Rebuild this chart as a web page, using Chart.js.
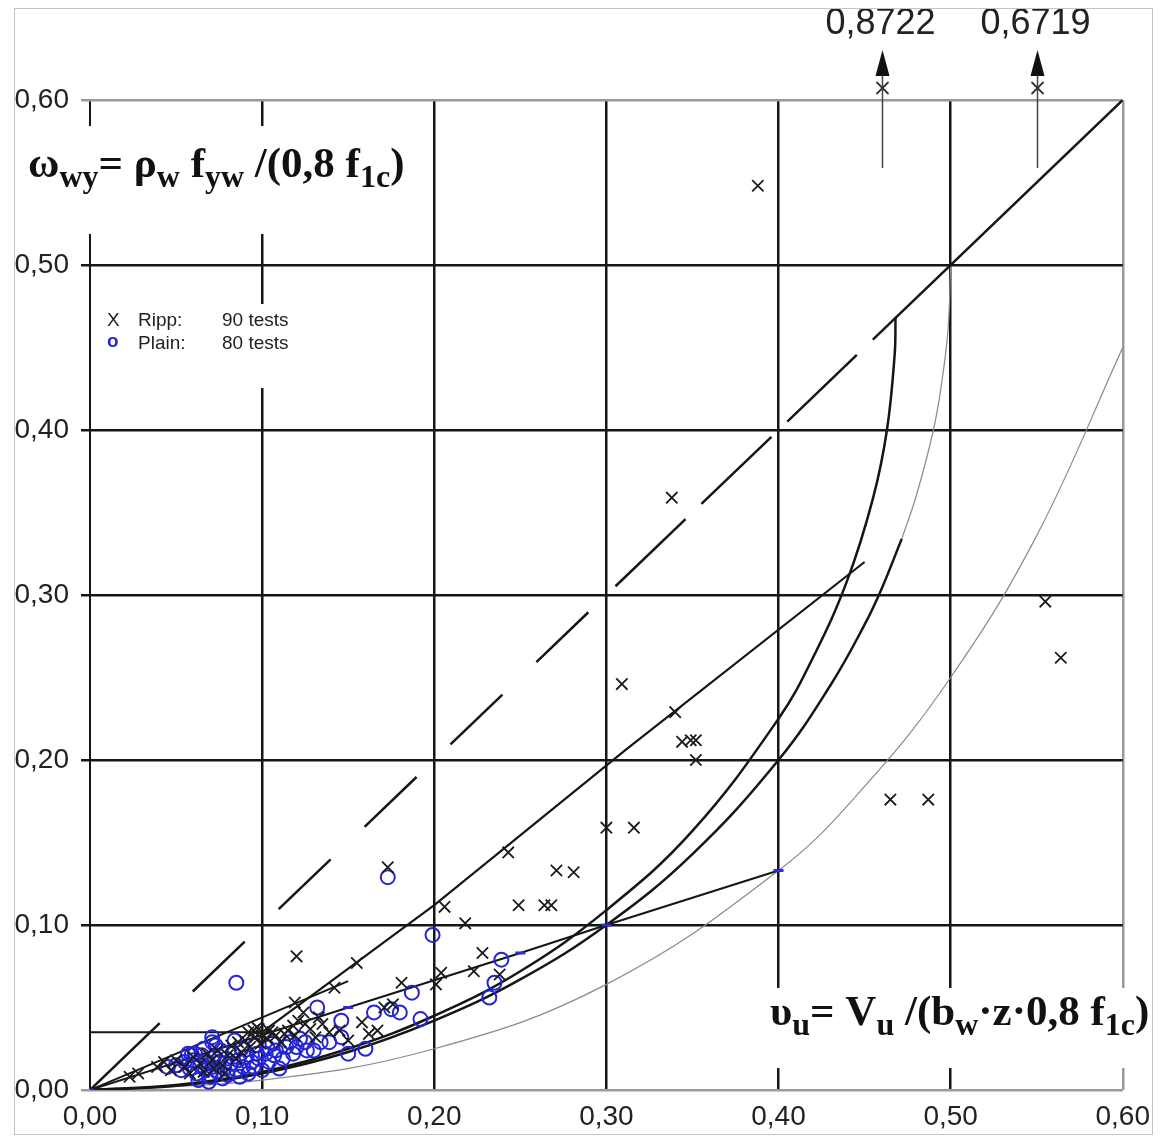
<!DOCTYPE html>
<html>
<head>
<meta charset="utf-8">
<script src="https://cdn.jsdelivr.net/npm/chart.js@4.4.0/dist/chart.umd.min.js"></script>
<style>
  html, body { margin: 0; padding: 0; background: #fff; }
  #chart { display: block; }
</style>
</head>
<body>
<canvas id="chart" width="1160" height="1137"></canvas>
<script>
// Shear tests: omega_wy against v_u, ribbed and plain stirrups

// ribbed bars (X)
const rippV = [0.388, 0.338, 0.309, 0.340, 0.344, 0.349, 0.352, 0.352, 0.300, 0.316,
  0.555, 0.564, 0.465, 0.487, 0.243, 0.271, 0.281, 0.206, 0.249, 0.264,
  0.268, 0.218, 0.228, 0.173, 0.120, 0.155, 0.223, 0.238, 0.204, 0.201,
  0.181, 0.171, 0.142, 0.119, 0.124, 0.133, 0.139, 0.118, 0.095, 0.106,
  0.086, 0.023, 0.039, 0.043, 0.100, 0.098, 0.167, 0.176, 0.125, 0.113,
  0.050, 0.055, 0.060, 0.064, 0.068, 0.071, 0.074, 0.077, 0.080, 0.082,
  0.085, 0.088, 0.090, 0.093, 0.096, 0.099, 0.103, 0.108, 0.111, 0.115,
  0.119, 0.121, 0.128, 0.131, 0.135, 0.145, 0.150, 0.158, 0.162, 0.092,
  0.097, 0.104, 0.066, 0.058, 0.047, 0.072, 0.078, 0.028];
const rippW = [0.548, 0.359, 0.246, 0.229, 0.211, 0.212, 0.212, 0.200, 0.159, 0.159,
  0.296, 0.262, 0.176, 0.176, 0.144, 0.133, 0.132, 0.111, 0.112, 0.112,
  0.112, 0.101, 0.083, 0.135, 0.081, 0.077, 0.072, 0.070, 0.071, 0.064,
  0.065, 0.050, 0.062, 0.053, 0.047, 0.044, 0.035, 0.039, 0.036, 0.035,
  0.029, 0.008, 0.014, 0.017, 0.033, 0.037, 0.036, 0.052, 0.040, 0.034,
  0.018, 0.014, 0.020, 0.016, 0.022, 0.018, 0.024, 0.015, 0.021, 0.027,
  0.019, 0.023, 0.030, 0.026, 0.032, 0.028, 0.031, 0.033, 0.029, 0.036,
  0.033, 0.042, 0.037, 0.032, 0.040, 0.036, 0.030, 0.041, 0.034, 0.035,
  0.038, 0.036, 0.011, 0.010, 0.012, 0.013, 0.010, 0.010];

// plain bars (o)
const plainV = [0.173, 0.085, 0.199, 0.239, 0.235, 0.232, 0.187, 0.192, 0.180, 0.175,
  0.165, 0.146, 0.132, 0.160, 0.150, 0.146, 0.139, 0.134, 0.130, 0.125,
  0.120, 0.114, 0.110, 0.107, 0.103, 0.097, 0.095, 0.071, 0.071, 0.057,
  0.061, 0.045, 0.050, 0.053, 0.055, 0.058, 0.060, 0.062, 0.064, 0.065,
  0.067, 0.068, 0.070, 0.071, 0.072, 0.074, 0.075, 0.076, 0.078, 0.079,
  0.080, 0.082, 0.083, 0.085, 0.086, 0.088, 0.089, 0.091, 0.092, 0.094,
  0.096, 0.098, 0.100, 0.102, 0.104, 0.106, 0.108, 0.112, 0.116, 0.118,
  0.122, 0.126, 0.063, 0.069, 0.077, 0.087, 0.059, 0.066, 0.073, 0.084];
const plainW = [0.129, 0.065, 0.094, 0.079, 0.065, 0.056, 0.059, 0.043, 0.047, 0.049,
  0.047, 0.042, 0.050, 0.025, 0.022, 0.032, 0.029, 0.029, 0.024, 0.029,
  0.026, 0.026, 0.013, 0.021, 0.026, 0.022, 0.014, 0.032, 0.029, 0.022,
  0.022, 0.014, 0.015, 0.012, 0.017, 0.013, 0.018, 0.010, 0.015, 0.021,
  0.012, 0.017, 0.008, 0.014, 0.020, 0.011, 0.017, 0.024, 0.013, 0.019,
  0.009, 0.016, 0.022, 0.012, 0.018, 0.025, 0.014, 0.020, 0.010, 0.017,
  0.027, 0.019, 0.012, 0.022, 0.017, 0.028, 0.024, 0.019, 0.029, 0.022,
  0.031, 0.024, 0.006, 0.005, 0.007, 0.008, 0.021, 0.025, 0.027, 0.030];

// tests beyond the top of the chart
const outV = [0.46, 0.55];
const outW = [0.8722, 0.6719];

// omega = v line, drawn in pieces (first dash, short dashes, long dashes, solid end)
const diagFirst = [0, 0.0405];
const diagLow = [0.0597, 0.2945];
const diagHigh = [0.3053, 0.4455];
const diagTop = [0.4548, 0.6];

const thirdV = [0, 0.15, 0.25, 0.30, 0.40];
const thirdW = [0, 0.050, 0.083, 0.100, 0.133];
const minV = [0, 0.100, 0.200, 0.311, 0.450];
const minW = [0.035, 0.035, 0.112, 0.206, 0.320];
const originV = [0, 0.150];
const originW = [0, 0.066];

const curveAV = [0, 0.05, 0.10, 0.15, 0.20, 0.25, 0.30, 0.35, 0.40, 0.43, 0.45, 0.46, 0.4716];
const curveAW = [0, 0.0025, 0.010, 0.023, 0.042, 0.067, 0.100, 0.143, 0.200, 0.245, 0.282, 0.304, 0.334];
const curveAtopV = [0.4716, 0.480, 0.490, 0.495, 0.4985, 0.500];
const curveAtopW = [0.334, 0.360, 0.400, 0.430, 0.461, 0.500];
const curveCV = [0, 0.05, 0.10, 0.15, 0.20, 0.25, 0.30, 0.35, 0.40, 0.42, 0.44, 0.455, 0.463, 0.4675, 0.468];
const curveCW = [0, 0.003, 0.011, 0.025, 0.045, 0.072, 0.109, 0.157, 0.225, 0.262, 0.309, 0.359, 0.400, 0.446, 0.468];
const curveBV = [0, 0.10, 0.20, 0.30, 0.40, 0.45, 0.50, 0.55, 0.60];
const curveBW = [0, 0.006, 0.025, 0.064, 0.133, 0.184, 0.250, 0.336, 0.450];

const yTicks = [0, 0.1, 0.2, 0.3, 0.4, 0.5, 0.6];

const zip = (xs, ys) => xs.map((x, i) => ({ x: x, y: ys[i] }));
const comma = v => v.toFixed(2).replace('.', ',');

const INK = '#161616';
const GRAY = '#9a9a9a';
const SANS = '"Liberation Sans", Arial, sans-serif';

function lineSet(xs, ys, width, color, extra) {
  return Object.assign({
    type: 'scatter',
    data: zip(xs, ys),
    showLine: true,
    borderColor: color,
    borderWidth: width,
    pointRadius: 0,
    fill: false,
    tension: 0
  }, extra || {});
}

// rich text with subscripts, runs = [[text, isSub], ...]
function drawRuns(ctx, x, y, runs, size) {
  let cx = x;
  runs.forEach(r => {
    const sub = r[1];
    ctx.font = 'bold ' + (sub ? Math.round(size * 0.74) : size) + 'px "Liberation Serif", "Times New Roman", serif';
    ctx.fillText(r[0], cx, sub ? y + size * 0.24 : y);
    cx += ctx.measureText(r[0]).width;
  });
  return cx;
}

const overlay = {
  id: 'overlay',
  beforeDatasetsDraw(chart) {
    const ctx = chart.ctx;
    ctx.save();
    ctx.fillStyle = '#fff';
    ctx.fillRect(20, 126, 392, 108);   // title box
    ctx.fillRect(95, 304, 212, 84);    // legend box
    ctx.fillRect(748, 988, 412, 80);   // axis title box
    ctx.fillStyle = '#111';
    ctx.textBaseline = 'alphabetic';
    ctx.textAlign = 'left';
    drawRuns(ctx, 28, 177, [['\u03c9', false], ['wy', true], ['= \u03c1', false], ['w', true],
      [' f', false], ['yw', true], [' /(0,8 f', false], ['1c', true], [')', false]], 43);
    drawRuns(ctx, 770, 1025, [['\u03c5', false], ['u', true], ['= V', false], ['u', true],
      [' /(b', false], ['w', true], ['\u00b7z\u00b70,8 f', false], ['1c', true], [')', false]], 43);

    // legend
    ctx.font = '19px ' + SANS;
    ctx.textBaseline = 'middle';
    ctx.fillStyle = '#222';
    ctx.fillText('X', 107, 321);
    ctx.fillText('Ripp:', 138, 321);
    ctx.fillText('90 tests', 222, 321);
    ctx.fillText('Plain:', 138, 344);
    ctx.fillText('80 tests', 222, 344);
    ctx.fillStyle = '#2727d6';
    ctx.font = 'bold 19px ' + SANS;
    ctx.fillText('o', 107, 342);
    ctx.restore();
  },
  afterDraw(chart) {
    const ctx = chart.ctx;
    const xs = chart.scales.x;
    const top = chart.chartArea.top;
    ctx.save();
    // outliers above the chart: marker, arrow and value
    outV.forEach((v, i) => {
      const px = Math.round(xs.getPixelForValue(v)) + 0.5;
      ctx.strokeStyle = '#444';
      ctx.lineWidth = 1.5;
      ctx.beginPath();
      ctx.moveTo(px, top + 68);
      ctx.lineTo(px, top - 30);
      ctx.stroke();
      ctx.fillStyle = '#111';
      ctx.beginPath();
      ctx.moveTo(px, top - 50);
      ctx.lineTo(px - 7, top - 24);
      ctx.lineTo(px + 7, top - 24);
      ctx.closePath();
      ctx.fill();
      ctx.strokeStyle = '#333';
      ctx.lineWidth = 1.8;
      ctx.beginPath();
      ctx.moveTo(px - 6, top - 18); ctx.lineTo(px + 6, top - 6);
      ctx.moveTo(px + 6, top - 18); ctx.lineTo(px - 6, top - 6);
      ctx.stroke();
      ctx.fillStyle = '#222';
      ctx.font = '36px ' + SANS;
      ctx.textAlign = 'center';
      ctx.textBaseline = 'alphabetic';
      ctx.fillText(outW[i].toFixed(4).replace('.', ','), px - 2, top - 66);
    });
    // outer frame
    ctx.strokeStyle = '#c4c4c4';
    ctx.lineWidth = 1;
    ctx.strokeRect(14.5, 8.5, 1138, 1126);
    ctx.restore();
  }
};

new Chart(document.getElementById('chart'), {
  type: 'scatter',
  data: {
    datasets: [
      {
        label: 'Ripp',
        data: zip(rippV, rippW),
        pointStyle: 'crossRot',
        pointRadius: 8,
        borderColor: '#1c1c1c',
        borderWidth: 1.8
      },
      {
        label: 'Plain',
        data: zip(plainV, plainW),
        pointStyle: 'circle',
        pointRadius: 7,
        borderColor: '#2424d8',
        backgroundColor: 'rgba(0,0,0,0)',
        borderWidth: 2
      },
      lineSet(thirdV, thirdW, 2, INK, {
        pointRadius: [4, 5, 5, 5, 5],
        pointStyle: 'line',
        pointBorderColor: '#2a2ae0',
        pointBorderWidth: 3
      }),
      lineSet(minV, minW, 2.2, INK),
      lineSet(originV, originW, 2, INK),
      lineSet(diagFirst, diagFirst, 2.5, INK),
      lineSet(diagLow, diagLow, 2.5, INK, { borderDash: [72, 47] }),
      lineSet(diagHigh, diagHigh, 2.5, INK, { borderDash: [97, 22] }),
      lineSet(diagTop, diagTop, 2.5, INK),
      lineSet(curveAV, curveAW, 2.5, INK, { tension: 0.4 }),
      lineSet(curveAtopV, curveAtopW, 1.2, '#8a8a8a', { tension: 0.4 }),
      lineSet(curveCV, curveCW, 2.5, INK, { tension: 0.4 }),
      lineSet(curveBV, curveBW, 1.2, '#8a8a8a', { tension: 0.4 })
    ]
  },
  options: {
    responsive: false,
    animation: false,
    events: [],
    layout: { padding: { top: 100, right: 34, left: 0, bottom: 0 } },
    plugins: { legend: { display: false }, tooltip: { enabled: false } },
    scales: {
      x: {
        type: 'linear',
        min: 0,
        max: 0.6,
        afterFit: s => { s.height = 47; },
        border: { display: false },
        grid: {
          color: c => (c.tick && c.tick.value > 0.59 ? GRAY : INK),
          lineWidth: c => (c.tick && c.tick.value < 0.01 ? 2 : 2.5),
          drawTicks: false
        },
        ticks: {
          stepSize: 0.1,
          padding: 10,
          maxRotation: 0,
          color: '#222',
          font: { family: SANS, size: 28 },
          callback: v => comma(v)
        }
      },
      y: {
        type: 'linear',
        min: 0,
        max: 0.6,
        afterFit: s => { s.width = 90; },
        afterBuildTicks: s => { s.ticks = yTicks.map(v => ({ value: v })); },
        border: { display: false },
        grid: {
          color: c => {
            const v = c.tick ? c.tick.value : 0;
            return (v < 0.01 || v > 0.59) ? GRAY : INK;
          },
          lineWidth: 2.5,
          tickLength: 9
        },
        ticks: {
          padding: 12,
          color: '#222',
          font: { family: SANS, size: 28 },
          callback: v => comma(v)
        }
      }
    }
  },
  plugins: [overlay]
});
</script>
</body>
</html>
